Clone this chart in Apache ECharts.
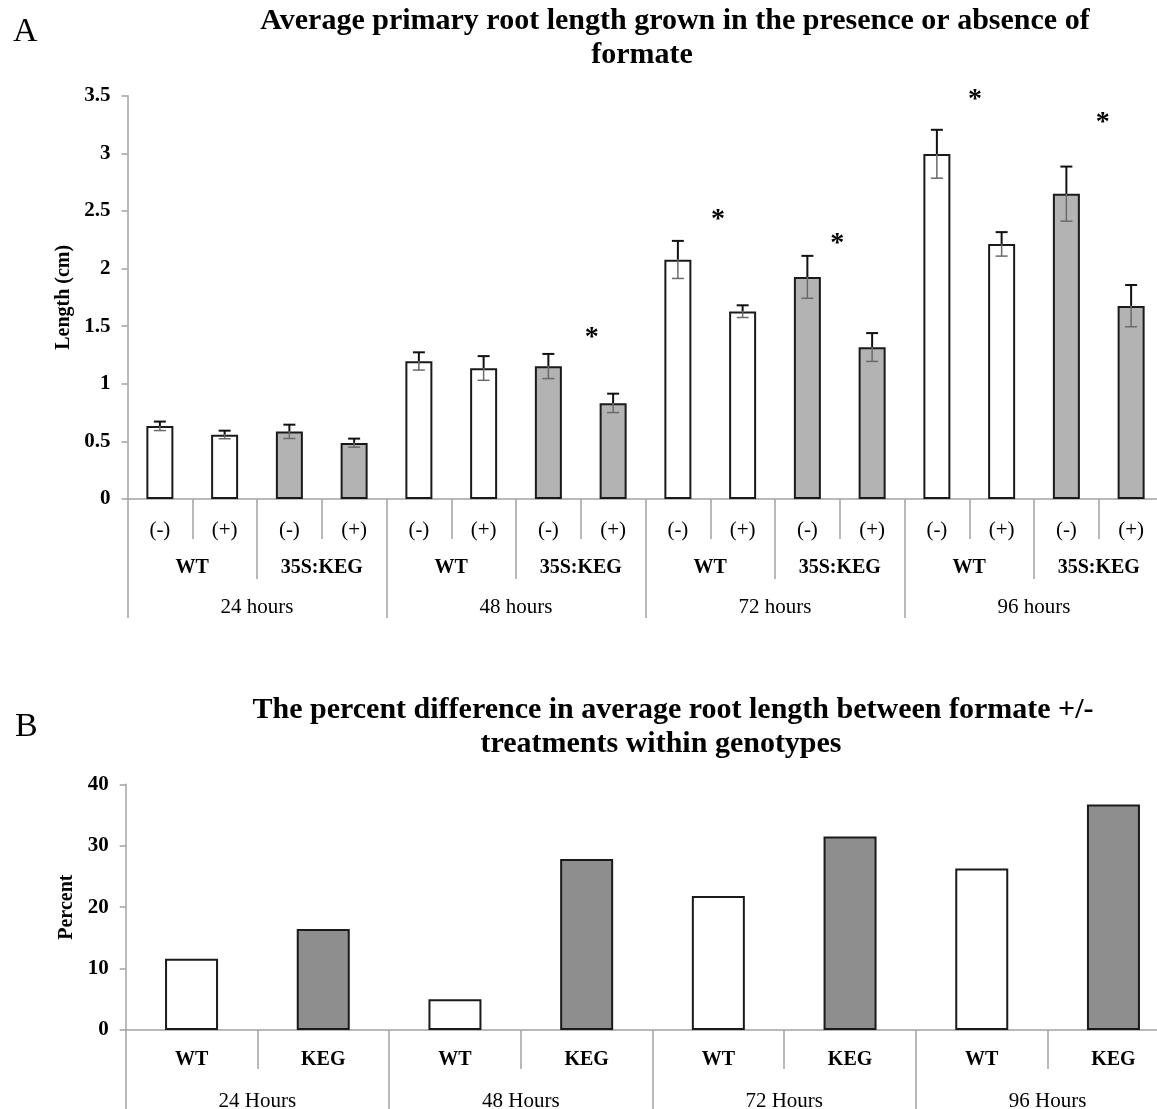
<!DOCTYPE html>
<html>
<head>
<meta charset="utf-8">
<script src="https://cdn.jsdelivr.net/npm/echarts@6/dist/echarts.min.js"></script>
<style>html,body{margin:0;padding:0;background:#fff;}#c{width:1157px;height:1109px;}</style>
</head>
<body>
<div id="c"></div>
<script>
// ---- Panel A data ----
const hoursA = ['24 hours', '48 hours', '72 hours', '96 hours'];
const genotypesA = ['WT', '35S:KEG'];
const treatments = ['(-)', '(+)'];
const meanLength = [0.633, 0.558, 0.585, 0.487, 1.196, 1.135, 1.152, 0.832, 2.077, 1.628, 1.926, 1.317, 2.994, 2.212, 2.648, 1.676];
const errLength = [0.039, 0.035, 0.06, 0.037, 0.077, 0.105, 0.107, 0.082, 0.163, 0.053, 0.184, 0.123, 0.21, 0.104, 0.237, 0.181];
const starX = [7.17, 9.12, 10.96, 13.09, 15.06];
const starY = [1.44, 2.47, 2.26, 3.51, 3.31];
const yTicksA = { min: 0, max: 3.5, interval: 0.5 };

// ---- Panel B data ----
const hoursB = ['24 Hours', '48 Hours', '72 Hours', '96 Hours'];
const genotypesB = ['WT', 'KEG'];
const percentDiff = [11.6, 16.45, 5.0, 27.85, 21.8, 31.5, 26.3, 36.7];
const yTicksB = { min: 0, max: 40, interval: 10 };

// ---- styling ----
const FONT = 'Liberation Serif';
const axisGray = '#a3a3a3';
const whiteFill = '#ffffff';
const grayA = '#b3b3b3';
const grayB = '#8e8e8e';

// category label arrays built from the names
const lvl1A = [], lvl2A = [], lvl3A = hoursA.slice();
hoursA.forEach(() => genotypesA.forEach(g => { lvl2A.push(g); treatments.forEach(t => lvl1A.push(t)); }));
const lvl1B = [], lvl2B = hoursB.slice();
hoursB.forEach(() => genotypesB.forEach(g => lvl1B.push(g)));

const txt = (size, weight) => ({ fontFamily: FONT, fontSize: size, fontWeight: weight || 'normal', color: '#000' });

function catAxis(grid, data, tickLen, margin, size, weight, showLine) {
  return {
    type: 'category', gridIndex: grid, position: 'bottom', data: data,
    boundaryGap: true,
    axisLine: { show: !!showLine, lineStyle: { color: axisGray, width: 1.5 } },
    axisTick: { show: true, length: tickLen, interval: 0, lineStyle: { color: axisGray, width: 1.5 } },
    axisLabel: Object.assign({ interval: 0, margin: margin }, txt(size, weight)),
    splitLine: { show: false }
  };
}
function valAxis(grid, t, name, nameGap) {
  return {
    type: 'value', gridIndex: grid, min: t.min, max: t.max, interval: t.interval,
    name: name, nameLocation: 'middle', nameRotate: 90, nameGap: nameGap,
    nameTextStyle: txt(20, 'bold'),
    axisLine: { show: true, lineStyle: { color: axisGray, width: 1.5 } },
    axisTick: { show: true, length: 6, lineStyle: { color: axisGray, width: 1.5 } },
    axisLabel: Object.assign({ margin: 17 }, txt(21, 'bold')),
    splitLine: { show: false }
  };
}

const barStyleBorder = { borderColor: '#1a1a1a', borderWidth: 2 };
const titleStyle = Object.assign(txt(30, 'bold'), { lineHeight: 34 });

const option = {
  animation: false,
  backgroundColor: '#fff',
  title: [
    { text: 'A', left: 8, top: 10, textStyle: txt(34) },
    { text: 'Average primary root length grown in the presence or absence of', left: 670, top: -1, textAlign: 'center', textStyle: titleStyle },
    { text: 'formate', left: 637, top: 33, textAlign: 'center', textStyle: titleStyle },
    { text: 'B', left: 10, top: 705, textStyle: txt(34) },
    { text: 'The percent difference in average root length between formate +/-', left: 668, top: 688, textAlign: 'center', textStyle: titleStyle },
    { text: 'treatments within genotypes', left: 656, top: 722, textAlign: 'center', textStyle: titleStyle }
  ],
  grid: [
    { left: 127.5, top: 95.7, width: 1036, height: 403.3, containLabel: false, outerBoundsMode: 'none' },
    { left: 125.7, top: 784.3, width: 1053.6, height: 245.7, containLabel: false, outerBoundsMode: 'none' }
  ],
  xAxis: [
    catAxis(0, lvl1A, 40, 21, 21, 'normal', true),
    catAxis(0, lvl2A, 80, 59, 20, 'bold', false),
    catAxis(0, lvl3A, 119, 98, 21, 'normal', false),
    { type: 'value', gridIndex: 0, position: 'top', min: 0, max: 16, show: false },
    catAxis(1, lvl1B, 39, 20, 20, 'bold', true),
    catAxis(1, lvl2B, 80, 61, 21, 'normal', false)
  ],
  yAxis: [
    valAxis(0, yTicksA, 'Length (cm)', 51),
    valAxis(1, yTicksB, 'Percent', 48)
  ],
  series: [
    {
      type: 'bar', xAxisIndex: 0, yAxisIndex: 0, barWidth: 27, z: 2,
      data: meanLength.map((v, i) => ({ value: v, itemStyle: Object.assign({ color: (Math.floor(i / 2) % 2) ? grayA : whiteFill }, barStyleBorder) }))
    },
    {
      type: 'custom', xAxisIndex: 0, yAxisIndex: 0, z: 5, clip: false,
      data: meanLength.map((m, i) => [i, m - errLength[i], m, m + errLength[i]]),
      renderItem: function (params, api) {
        const x = api.value(0);
        const lo = api.coord([x, api.value(1)]);
        const mid = api.coord([x, api.value(2)]);
        const hi = api.coord([x, api.value(3)]);
        const hw = 6;
        return {
          type: 'group', children: [
            { type: 'line', shape: { x1: hi[0], y1: hi[1], x2: mid[0], y2: mid[1] }, style: { stroke: '#111', lineWidth: 2 } },
            { type: 'line', shape: { x1: hi[0] - hw, y1: hi[1], x2: hi[0] + hw, y2: hi[1] }, style: { stroke: '#111', lineWidth: 2 } },
            { type: 'line', shape: { x1: mid[0], y1: mid[1], x2: lo[0], y2: lo[1] }, style: { stroke: '#6a6a6a', lineWidth: 1.5 } },
            { type: 'line', shape: { x1: lo[0] - hw, y1: lo[1], x2: lo[0] + hw, y2: lo[1] }, style: { stroke: '#6a6a6a', lineWidth: 1.5 } }
          ]
        };
      }
    },
    {
      type: 'scatter', xAxisIndex: 3, yAxisIndex: 0, symbolSize: 2, clip: false, itemStyle: { color: 'rgba(0,0,0,0)' }, z: 6,
      data: starX.map((x, i) => [x, starY[i]]),
      label: { show: true, position: 'inside', formatter: '*', fontFamily: FONT, fontSize: 28, fontWeight: 'bold', color: '#000', opacity: 1, offset: [0, 5] }
    },
    {
      type: 'bar', xAxisIndex: 4, yAxisIndex: 1, barWidth: 53,
      data: percentDiff.map((v, i) => ({ value: v, itemStyle: Object.assign({ color: (i % 2) ? grayB : whiteFill }, barStyleBorder) }))
    }
  ]
};

const chart = echarts.init(document.getElementById('c'), null, { renderer: 'canvas' });
chart.setOption(option);
</script>
</body>
</html>
